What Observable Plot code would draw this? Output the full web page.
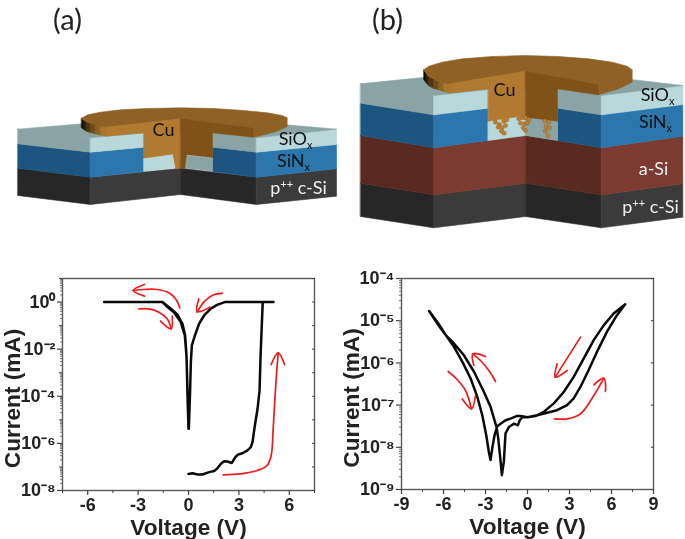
<!DOCTYPE html>
<html><head><meta charset="utf-8">
<script src="https://cdn.jsdelivr.net/npm/d3@7"></script>
<script src="https://cdn.jsdelivr.net/npm/@observablehq/plot@0.6"></script>
<style>
html,body{margin:0;padding:0;background:#fff;width:685px;height:539px;overflow:hidden}
#page{position:relative;width:685px;height:539px;filter:blur(0.35px)}
#page>svg,#page>figure{position:absolute;margin:0}
</style></head><body><div id="page"></div>
<script>
// ---------- Panel (a) data: voltage (V), log10 of current (mA)
const aVoltage = [0,.24,.54,.83,1.23,1.53,1.73,1.92,2.12,2.32,2.58,2.78,2.96,3.21,3.51,3.71,3.81,3.95,4.11,4.23,4.29,4.37,4.42,5.06,2.16,1.73,1.33,.93,.63,.38,.2,.14,.1,.02,0,-.06,-.12,-.2,-.36,-.65,-1.05,-1.55,-5.02,-1.55,-1.25,-.85,-.46,-.22,-.12,-.06,0];
const aLogCurrent = [-7.3,-7.27,-7.32,-7.32,-7.22,-7.17,-7.05,-6.87,-6.76,-6.77,-6.83,-6.59,-6.47,-6.42,-6.3,-6.16,-5.95,-5.24,-4.53,-3.75,-2.27,-.85,0,0,0,-.11,-.28,-.57,-.92,-1.42,-1.84,-2.55,-3.68,-5.38,-5.38,-3.68,-2.27,-1.42,-.92,-.54,-.28,0,0,0,-.21,-.45,-.85,-1.42,-2.27,-3.97,-5.38];
// ---------- Panel (b) data
const bVoltage = [0,.69,1.4,2.11,2.83,3.3,3.78,4.37,4.96,5.68,6.39,6.98,6.15,5.44,4.73,4.01,3.3,2.59,1.88,1.16,.57,0,-.5,-.78,-1.21,-1.57,-1.92,-2.16,-2.35,-2.52,-2.64,-2.76,-2.95,-3.23,-3.59,-4.06,-4.66,-5.25,-5.84,-6.44,-7.03,-6.44,-5.84,-5.25,-4.54,-3.82,-3.11,-2.64,-2.21,-2.09,-1.92,-1.83,-1.69,-1.57,-1.33,-.97,-.69,-.55,-.38,0];
const bLogCurrent = [-7.29,-7.24,-7.18,-7.12,-7,-6.84,-6.57,-6.17,-5.74,-5.26,-4.87,-4.61,-4.83,-5.11,-5.46,-5.9,-6.33,-6.69,-6.96,-7.16,-7.26,-7.29,-7.26,-7.26,-7.32,-7.36,-7.44,-7.5,-7.71,-8.03,-8.3,-8.11,-7.71,-7.24,-6.8,-6.37,-5.97,-5.62,-5.34,-5.07,-4.77,-5.03,-5.34,-5.54,-5.82,-6.21,-6.69,-7.04,-7.52,-7.79,-8.34,-8.66,-8.34,-7.67,-7.52,-7.44,-7.48,-7.36,-7.29,-7.29];
// ---------- Axes
const aMajorX = [-6,-3,0,3,6], aMinorX = [-7.5,-4.5,-1.5,1.5,4.5,7.5];
const aMajorY = [-8,-6,-4,-2,0], aMinorY = [-7,-5,-3,-1,1];
const bMajorX = [-9,-6,-3,0,3,6,9], bMinorX = [-7.5,-4.5,-1.5,1.5,4.5,7.5];
const bMajorY = [-9,-8,-7,-6,-5,-4];
const logFactors = [2,3,4,5,6,7,8,9];
const xTitle = "Voltage (V)", yTitle = "Current (mA)";

// ---------- Schematic shapes, in 3x pixels of each schematic: [colour, x,y, x,y, ...]
const C = {dk1:"#272727",dk2:"#3b3b3b",bl1:"#1c5580",bl2:"#2a76ad",ox1:"#8aa3a5",ox2:"#b8d8da",cu1:"#b07a30",cu2:"#7e5218",cu3:"#8f6125",r1:"#582a20",r2:"#7b3b30"};
const shapesA = [
 [C.dk1,52,503,270,530,270,612,52,585],[C.dk2,270,530,540,503,540,582,270,612],[C.dk1,540,503,768,530,768,612,540,582],[C.dk2,768,530,1008,505,1008,587,768,612],
 [C.bl1,52,430,270,455,270,530,52,503],[C.bl2,270,455,430,440,430,513,270,530],[C.bl1,636,440,768,455,768,530,636,513],[C.bl2,768,455,1008,432,1008,505,768,530],
 [C.ox1,52,386,270,412,270,455,52,430],[C.ox2,270,412,430,397,430,440,270,455],[C.ox1,636,397,768,412,768,455,636,440],[C.ox2,768,412,1008,386,1008,432,768,455],
 [C.ox1,52,386,540,345,1008,386,768,412,636,397,430,397,270,412],
 [C.cu1,430,380,540,355,540,503,525,503,516,463,430,475],[C.cu2,540,355,636,380,636,472,560,463,555,503,540,503],
 [C.ox2,430,475,516,463,522,503,430,512],[C.ox1,560,465,636,473,636,512,556,503],
 [C.cu3,758,383,800,373,840,362,860,352,860,378,830,392,790,403,758,410],
 ["#100b05",243,353,250,359,250,387,243,382],["#2c1e0b",250,359,258,364,258,392,250,387],["#4f3512",258,364,270,368,270,396,258,392],["#6f4b1a",270,368,285,372,285,400,270,396],["#8c6222",285,372,300,376,300,404,285,400],["#a8752c",300,376,318,380,318,407,300,404],
 [C.cu3,243,353,262,343,300,335,360,328,440,324,540,322,640,324,730,330,800,337,845,345,860,352,840,362,800,373,758,383,540,355,318,380,285,372,258,364],
 [C.cu1,318,380,540,355,540,385,430,397,318,407],[C.cu2,540,355,758,383,758,410,636,397,540,385]
];
const shapesB = [
 [C.dk1,45,548,265,583,265,682,45,648],[C.dk2,265,583,540,548,540,648,265,682],[C.dk1,540,548,768,583,768,682,540,648],[C.dk2,768,583,1012,550,1012,650,768,682],
 [C.r1,45,405,265,442,265,583,45,548],[C.r2,265,442,540,405,540,548,265,583],[C.r1,540,405,768,442,768,583,540,548],[C.r2,768,442,1012,407,1012,550,768,583],
 [C.bl1,45,308,265,343,265,442,45,405],[C.bl2,265,343,428,323,428,420,265,442],[C.bl1,636,323,768,343,768,442,636,420],[C.bl2,768,343,1012,312,1012,407,768,442],
 [C.ox1,45,250,265,285,265,343,45,308],[C.ox2,265,285,428,267,428,323,265,343],[C.ox1,636,265,768,285,768,343,636,323],[C.ox2,768,285,1012,255,1012,312,768,343],
 [C.ox1,45,250,540,200,1012,255,768,285,636,265,428,267,265,285],
 [C.ox2,428,362,540,345,540,405,428,420],[C.ox1,540,350,636,362,636,420,540,405],
 [C.cu1,428,250,540,212,540,345,428,362],[C.cu2,540,212,636,250,636,362,540,350],
 [C.cu3,758,253,810,240,850,225,860,208,860,245,820,265,758,283],
 ["#100b05",235,208,242,219,242,247,235,238],["#2c1e0b",242,219,250,228,250,256,242,247],["#4f3512",250,228,265,236,265,264,250,256],["#6f4b1a",265,236,280,243,280,268,265,264],["#8c6222",280,243,295,247,295,273,280,268],["#a8752c",295,247,312,250,312,278,295,273],
 [C.cu3,235,208,250,197,290,185,350,175,440,168,540,165,640,168,730,175,800,185,845,197,860,208,850,225,810,240,758,253,540,212,312,250,280,243,250,228],
 [C.cu1,312,250,540,212,540,265,428,265,312,278],[C.cu2,540,212,758,253,758,283,636,265,540,265]
];
const filamentX = [450,462,475,484,458,470,480,468,476,520,530,540,550,525,537,546,533,540,598,610,602,612,600,608];
const filamentY = [365,372,362,358,380,382,375,392,398,355,352,352,358,368,370,368,382,390,362,365,378,382,392,406];
// Red sweep arrows, 3x pixels of each chart panel
const arrowsA = [
 [538,157,525,130,505,112,470,102,430,102,398,105],[432,87,398,105,432,122],
 [415,160,445,160,475,170,500,190,512,220],[480,197,512,220,515,182],
 [665,113,635,120,610,140,590,170],[595,130,590,168,628,155],
 [668,658,720,655,770,645,800,630,812,600,818,520,825,400,833,292],[812,327,833,292,852,327]
];
const arrowsB = [
 [465,378,445,345,420,315,397,295],[400,330,397,295,435,303],
 [323,348,350,372,375,405,393,460],[365,430,393,460,405,420],
 [720,245,644,365],[650,325,644,365,680,345],
 [642,490,680,490,720,475,760,420,790,368],[760,388,790,368,795,408]
];
const labels = [
 ["(a)",67,20,29,"#222"],["(b)",387,20,29,"#222"],
 ["Cu",163,130,18,"#111"],["SiOₓ",295,139,18,"#111"],["SiNₓ",293,161,18,"#111"],["p⁺⁺ c-Si",298,188,18,"#eee"],
 ["Cu",504,90,18,"#111"],["SiOₓ",657,95,18,"#111"],["SiNₓ",655,122,18,"#111"],["a-Si",653,169,18,"#eee"],["p⁺⁺ c-Si",650,207,18,"#eee"]
];

const fontBold = "'Liberation Sans',Arial,sans-serif";
const sup = {"-":"⁻","0":"⁰","1":"¹","2":"²","3":"³","4":"⁴","5":"⁵","6":"⁶","7":"⁷","8":"⁸","9":"⁹"};
const powerLabel = d => "10" + String(Math.round(Math.log10(d))).replace(/./g, c => sup[c]);
const toRows = (vs, ls) => vs.map((v, i) => ({v, i: 10 ** ls[i]}));
const pow = a => a.map(e => 10 ** e);

function chart({left, width, height, margins, xDomain, yDomain, rows, majorX, minorX, majorY, minorY, rightY, logTicks}) {
  const p = Plot.plot({
    width, height, ...margins,
    style: {fontFamily: fontBold, background: "transparent", overflow: "visible"},
    x: {domain: xDomain}, y: {type: "log", domain: yDomain},
    marks: [
      Plot.frame({stroke: "#5a5a5a", strokeWidth: 1.4}),
      Plot.axisX(majorX, {anchor: "bottom", tickSize: 5, tickPadding: 3, fontSize: 18, fontWeight: "bold", fill: "#222", stroke: "#444", strokeWidth: 1.2, label: null, tickFormat: d => String(d)}),
      Plot.axisX(minorX, {anchor: "bottom", tickSize: 3, tickFormat: () => "", stroke: "#444", label: null}),
      Plot.axisY(pow(majorY), {anchor: "left", tickSize: 5, tickPadding: 2, fontSize: 18, fontWeight: "bold", fill: "#222", stroke: "#444", strokeWidth: 1.2, label: null, tickFormat: powerLabel}),
      Plot.axisY(pow(minorY), {anchor: "left", tickSize: 3, tickFormat: () => "", stroke: "#444", label: null}),
      Plot.axisY(logTicks, {anchor: "left", tickSize: 2, tickFormat: () => "", stroke: "#555", strokeWidth: 0.8, label: null}),
      Plot.axisY(pow(rightY), {anchor: "right", tickSize: -3, tickFormat: () => "", stroke: "#444", label: null}),
      Plot.line(rows, {x: "v", y: "i", stroke: "#0a0a0a", strokeWidth: 2.5, curve: "linear"}),
      Plot.text([xTitle], {frameAnchor: "bottom", dy: 44, fontSize: 22.6, fontWeight: "bold", fill: "#222"}),
      Plot.text([yTitle], {frameAnchor: "left", textAnchor: "middle", dx: -50, dy: 14, rotate: -90, fontSize: 22.6, fontWeight: "bold", fill: "#222"})
    ]
  });
  p.style.left = left + "px"; p.style.top = "255px";
  return p;
}
const decadeTicks = (lo, hi) => d3.range(lo, hi).flatMap(e => logFactors.map(f => f * 10 ** e));

const page = document.getElementById("page");
page.append(chart({left: 0, width: 340, height: 284, margins: {marginLeft: 62, marginRight: 26, marginTop: 23, marginBottom: 49},
  xDomain: [-7.5, 7.5], yDomain: [1e-8, 10], rows: toRows(aVoltage, aLogCurrent), majorX: aMajorX, minorX: aMinorX, majorY: aMajorY, minorY: aMinorY, rightY: [...aMajorY, ...aMinorY], logTicks: decadeTicks(-8, 1)}));
page.append(chart({left: 340, width: 345, height: 284, margins: {marginLeft: 61, marginRight: 32, marginTop: 23, marginBottom: 50},
  xDomain: [-9, 9], yDomain: [1e-9, 1e-4], rows: toRows(bVoltage, bLogCurrent), majorX: bMajorX, minorX: bMinorX, majorY: bMajorY, minorY: [], rightY: bMajorY, logTicks: decadeTicks(-9, -4)}));

// overlay: schematics and red arrows in page pixels
const polys = [];
const push = (list, ox, oy) => list.forEach((s, id) => {
  for (let k = 1; k < s.length; k += 2) polys.push({id: ox + "-" + id, c: s[0], x: s[k] / 3 + ox, y: s[k + 1] / 3 + oy});
});
push(shapesA, 0, 0); push(shapesB, 345, 0);
const arrows = [];
const pushA = (list, ox, oy, tag) => list.forEach((s, id) => {
  for (let k = 0; k < s.length; k += 2) arrows.push({id: tag + id, x: s[k] / 3 + ox, y: s[k + 1] / 3 + oy});
});
pushA(arrowsA, 0, 255, "a"); pushA(arrowsB, 340, 255, "b");
const fil = filamentX.map((x, i) => ({x: x / 3 + 345, y: filamentY[i] / 3}));
const overlay = Plot.plot({
  width: 685, height: 539, margin: 0,
  x: {domain: [0, 685], axis: null}, y: {domain: [0, 539], range: [0, 539], axis: null},
  color: {type: "identity"},
  style: {background: "transparent", pointerEvents: "none", fontFamily: "Lato,'Open Sans',sans-serif"},
  marks: [
    Plot.line(polys, {x: "x", y: "y", z: "id", fill: "c", stroke: "c", strokeWidth: 0.6, curve: "linear-closed"}),
    Plot.dot(fil, {x: "x", y: "y", r: 2.1, fill: "#c07f30", stroke: "#8a5a20", strokeWidth: 0.4}),
    Plot.line(arrows, {x: "x", y: "y", z: "id", stroke: "#ee1c1c", strokeWidth: 1.7, curve: "catmull-rom"}),
    Plot.text(labels, {x: d => d[1], y: d => d[2], text: d => d[0], fontSize: d => d[3], fill: d => d[4]})
  ]
});
overlay.style.left = "0"; overlay.style.top = "0";
page.append(overlay);
// real sub- and superscripts in the schematic labels
const svgNS = "http://www.w3.org/2000/svg";
overlay.querySelectorAll("text").forEach(t => {
  const parts = (t.textContent || "").split(/([ₓ⁺]+)/);
  if (parts.length < 2) return;
  t.textContent = "";
  let back = 0;
  parts.forEach(part => {
    if (!part) return;
    const s = document.createElementNS(svgNS, "tspan");
    if (/[ₓ⁺]/.test(part)) {
      const isSub = part.includes("ₓ");
      s.textContent = isSub ? "x" : "++";
      s.setAttribute("font-size", "11");
      back = isSub ? 4 : -6;
      s.setAttribute("dy", back);
    } else {
      s.textContent = part;
      if (back) { s.setAttribute("dy", -back); back = 0; }
    }
    t.append(s);
  });
});
</script></body></html>
